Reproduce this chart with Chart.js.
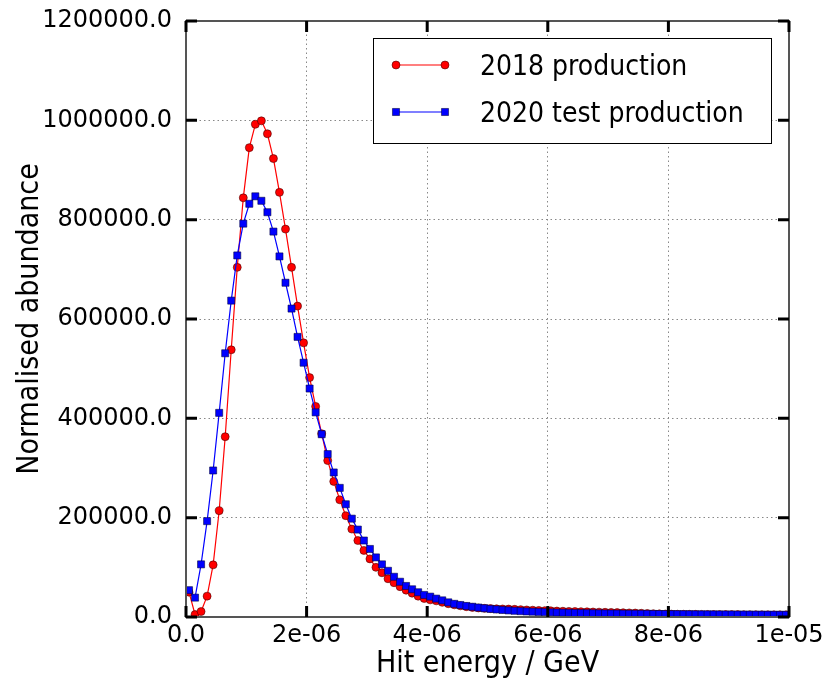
<!DOCTYPE html>
<html>
<head>
<meta charset="utf-8">
<script src="https://cdn.jsdelivr.net/npm/chart.js@4.4.0/dist/chart.umd.min.js"></script>
<style>
  html, body { margin: 0; padding: 0; background: #fff; }
</style>
</head>
<body>
<canvas id="canvas" width="823" height="683"></canvas>
<script>
// bins of 1e-7 GeV from 0 to 1e-5, points at bin centres
var binWidth = 1e-7;
var nBins = 100;
var xTicks = [0, 2e-6, 4e-6, 6e-6, 8e-6, 1e-5];
var yTicks = [0, 200000, 400000, 600000, 800000, 1000000, 1200000];
var seriesNames = ["2018 production", "2020 test production"];

var prod2018 = [
  50000, 5000, 11000, 42000, 105000, 214000, 363000, 538000, 704000, 844000,
  945000, 992000, 999000, 973000, 923000, 855000, 781000, 704000, 626000, 552000,
  482000, 424000, 369000, 315000, 273000, 236000, 204000, 177000, 154000, 134000,
  117000, 100000, 89000, 77000, 69000, 61000, 54000, 48000, 42000, 37300,
  34500, 32500, 29500, 26800, 24500, 22500, 20800, 19300, 18200, 17400,
  16900, 16500, 16200, 16000, 15400, 14800, 14200, 13700, 13200, 12800,
  12400, 12000, 11600, 11300, 11000, 10700, 10400, 10100, 9800, 9500,
  9200, 8900, 8600, 8300, 8000, 7500, 7000, 6600, 6300, 6000,
  5800, 5600, 5500, 5400, 5300, 5200, 5100, 5000, 4950, 4900,
  4850, 4800, 4750, 4700, 4600, 4500, 4450, 4400, 4350, 4300
];

var test2020 = [
  54000, 39000, 106000, 193000, 295000, 411000, 531000, 637000, 728000, 792000,
  832000, 847000, 838000, 815000, 776000, 726000, 673000, 621000, 564000, 512000,
  460000, 412000, 368000, 328000, 291000, 260000, 227000, 198000, 176000, 154000,
  137000, 120000, 106000, 93000, 81000, 71000, 62500, 55800, 49800, 44400,
  41000, 37000, 33500, 29500, 26500, 24200, 22200, 20600, 19000, 17600,
  16300, 15200, 14200, 13300, 12500, 11800, 11200, 10700, 10200, 9800,
  9400, 9000, 8700, 8400, 8100, 7900, 7700, 7500, 7300, 7100,
  6900, 6800, 6600, 6500, 6400, 6300, 6200, 6100, 6000, 5900,
  5800, 5700, 5600, 5500, 5400, 5300, 5250, 5200, 5100, 5050,
  5000, 4900, 4850, 4800, 4700, 4650, 4600, 4500, 4450, 4400
];

function toPoints(values) {
  return values.map(function(v, i) {
    return { x: (i + 0.5) * binWidth, y: v };
  });
}

function sciLabel(v) {
  if (Math.abs(v) < 1e-12) return "0.0";
  var parts = v.toExponential(0).split("e");
  var e = parseInt(parts[1], 10);
  var s = Math.abs(e) < 10 ? "0" + Math.abs(e) : "" + Math.abs(e);
  return parts[0] + "e" + (e < 0 ? "-" : "+") + s;
}

var tickFont = { family: "'DejaVu Sans', sans-serif", size: 24 };
var titleFamily = "'DejaVu Sans Condensed', 'Liberation Sans Narrow', 'DejaVu Sans', sans-serif";

// inward ticks and the box round the axes
var framePlugin = {
  id: "frame",
  afterDatasetsDraw: function(chart) {
    var ctx = chart.ctx, a = chart.chartArea;
    var xs = chart.scales.x, ys = chart.scales.y;
    ctx.save();
    ctx.strokeStyle = "#555";
    ctx.lineWidth = 2;
    ctx.strokeRect(a.left, a.top, a.right - a.left, a.bottom - a.top);
    ctx.strokeStyle = "#000";
    ctx.lineWidth = 3;
    ctx.beginPath();
    xs.ticks.forEach(function(t) {
      var px = xs.getPixelForValue(t.value);
      ctx.moveTo(px, a.bottom); ctx.lineTo(px, a.bottom - 11);
      ctx.moveTo(px, a.top); ctx.lineTo(px, a.top + 11);
    });
    ys.ticks.forEach(function(t) {
      var py = ys.getPixelForValue(t.value);
      ctx.moveTo(a.left, py); ctx.lineTo(a.left + 11, py);
      ctx.moveTo(a.right, py); ctx.lineTo(a.right - 11, py);
    });
    ctx.stroke();
    ctx.restore();
  }
};

// matplotlib style legend: line with a marker at each end
var legendPlugin = {
  id: "boxLegend",
  afterDraw: function(chart) {
    var ctx = chart.ctx;
    var bx = 373.5, by = 38.5, bw = 398, bh = 105;
    ctx.save();
    ctx.fillStyle = "#fff";
    ctx.fillRect(bx, by, bw, bh);
    ctx.strokeStyle = "#000";
    ctx.lineWidth = 1;
    ctx.strokeRect(bx, by, bw, bh);
    chart.data.datasets.forEach(function(ds, i) {
      var y = 65 + i * 47;
      ctx.strokeStyle = ds.borderColor;
      ctx.lineWidth = ds.borderWidth;
      ctx.beginPath();
      ctx.moveTo(396, y); ctx.lineTo(445, y);
      ctx.stroke();
      [396, 445].forEach(function(x) {
        ctx.fillStyle = ds.pointBackgroundColor;
        ctx.strokeStyle = ds.pointBorderColor;
        ctx.lineWidth = ds.pointBorderWidth;
        Chart.helpers.drawPoint(ctx, {
          pointStyle: ds.pointStyle,
          radius: ds.pointRadius,
          borderWidth: ds.pointBorderWidth
        }, x, y);
      });
      ctx.fillStyle = "#000";
      ctx.font = "28px " + titleFamily;
      ctx.textBaseline = "middle";
      ctx.textAlign = "left";
      ctx.fillText(ds.label, 480, y + 3);
    });
    ctx.restore();
  }
};

new Chart(document.getElementById("canvas"), {
  type: "line",
  data: {
    datasets: [{
      label: seriesNames[0],
      data: toPoints(prod2018),
      borderColor: "#ff0000",
      borderWidth: 1.2,
      pointStyle: "circle",
      pointRadius: 4,
      pointBackgroundColor: "#ff0000",
      pointBorderColor: "rgba(60,0,0,0.7)",
      pointBorderWidth: 0.8,
      tension: 0,
      order: 2
    }, {
      label: seriesNames[1],
      data: toPoints(test2020),
      borderColor: "#0000ff",
      borderWidth: 1.2,
      pointStyle: "rect",
      pointRadius: 5,
      pointBackgroundColor: "#0000ff",
      pointBorderColor: "rgba(0,0,60,0.7)",
      pointBorderWidth: 0.8,
      tension: 0,
      order: 1
    }]
  },
  options: {
    responsive: false,
    animation: false,
    devicePixelRatio: 1,
    layout: { padding: { left: 0, right: 34, top: 21, bottom: 0 } },
    plugins: {
      legend: { display: false },
      tooltip: { enabled: false }
    },
    scales: {
      x: {
        type: "linear",
        min: 0,
        max: 1e-5,
        afterBuildTicks: function(scale) {
          scale.ticks = xTicks.map(function(v) { return { value: v }; });
        },
        afterFit: function(scale) {
          scale.height = 66;
          scale.paddingLeft = 0;
          scale.paddingRight = 0;
        },
        grid: { color: "#888", lineWidth: 1, drawTicks: false },
        border: { display: false, dash: [1.5, 3] },
        ticks: {
          color: "#000",
          font: tickFont,
          padding: 4,
          maxRotation: 0,
          autoSkip: false,
          callback: function(v) { return sciLabel(v); }
        },
        title: {
          display: true,
          text: "Hit energy / GeV",
          color: "#000",
          font: { family: titleFamily, size: 30 },
          padding: { top: 0, bottom: 1 }
        }
      },
      y: {
        min: 0,
        max: 1200000,
        afterBuildTicks: function(scale) {
          scale.ticks = yTicks.map(function(v) { return { value: v }; });
        },
        afterFit: function(scale) {
          scale.width = 186;
          scale.paddingTop = 0;
          scale.paddingBottom = 0;
        },
        grid: { color: "#888", lineWidth: 1, drawTicks: false },
        border: { display: false, dash: [1.5, 3] },
        ticks: {
          color: "#000",
          font: tickFont,
          padding: 14,
          autoSkip: false,
          callback: function(v) { return v.toFixed(1); }
        },
        title: {
          display: true,
          text: "Normalised abundance",
          color: "#000",
          font: { family: titleFamily, size: 30 },
          padding: { top: 12, bottom: 0 }
        }
      }
    }
  },
  plugins: [framePlugin, legendPlugin]
});
</script>
</body>
</html>
